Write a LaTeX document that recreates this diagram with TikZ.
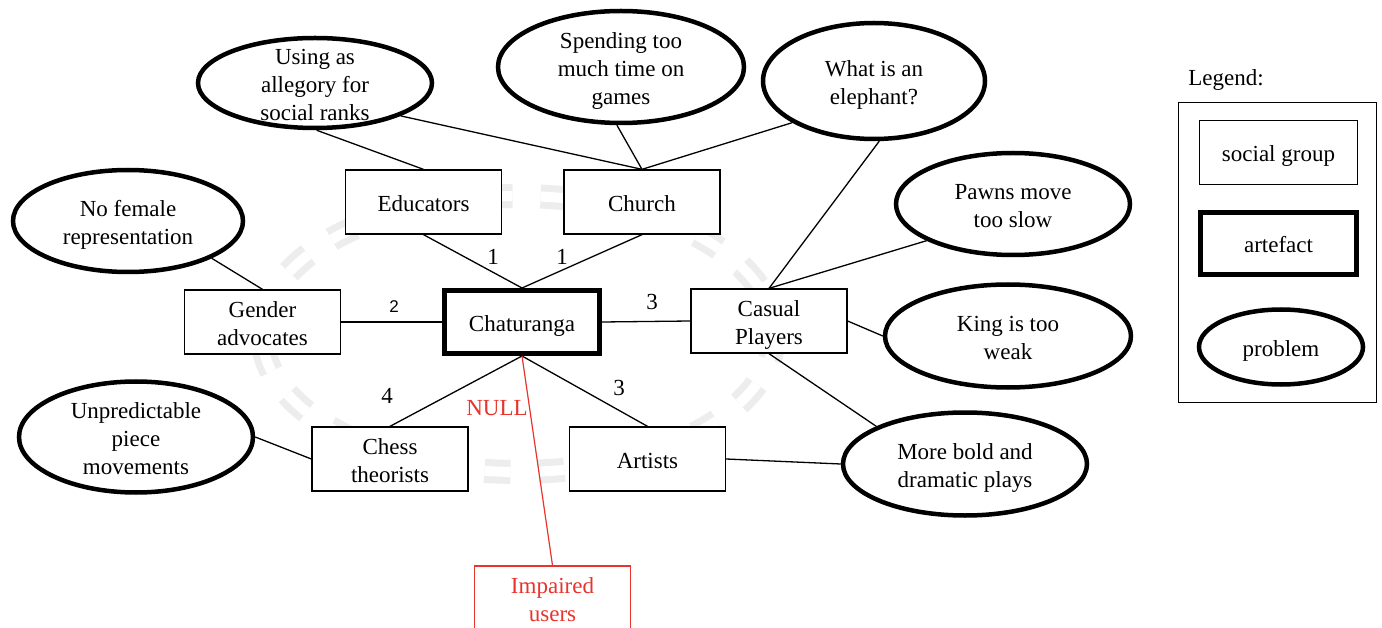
\documentclass[tikz,border=0pt]{standalone}
\usepackage{fontspec}
\setmainfont{Liberation Serif}
\newfontfamily\digitsans{Liberation Sans}
\usetikzlibrary{shapes.geometric}
\definecolor{wmgray}{RGB}{237,237,237}
\definecolor{nullred}{RGB}{232,52,44}
\newsavebox\tbox
\newdimen\tdim
\newcommand{\T}[1]{%
  \sbox\tbox{\begin{tabular}{@{}c@{}}#1\end{tabular}}%
  \tdim=\ht\tbox \advance\tdim by -\dp\tbox
  \sbox\tbox{\lower3.5pt\box\tbox}%
  \ht\tbox=\tdim \dp\tbox=0pt
  \box\tbox}
\begin{document}
\begin{tikzpicture}[x=1pt,y=-1pt,
  every node/.style={font=\fontsize{23}{28}\selectfont, align=center},
  sgbox/.style={draw, line width=1.3pt, fill=white, rectangle, inner sep=0pt, minimum width=156pt, minimum height=64pt},
  artbox/.style={draw, line width=5pt, fill=white, rectangle, inner sep=0pt, minimum width=155pt, minimum height=63pt},
  prob/.style={draw, line width=4.5pt, fill=white, ellipse, inner sep=0pt},
  conn/.style={line width=1.3pt},
  redconn/.style={line width=1.2pt, draw=nullred},
  lbl/.style={inner sep=0pt}
]
\useasboundingbox[fill=white] (0,0) rectangle (1382,628);

% faint watermark ring
\draw[draw=wmgray, line width=7pt, double=white, double distance=10pt, dash pattern=on 26pt off 28pt]
  (518,334) ellipse [x radius=256, y radius=138];

% social groups
\node[sgbox] (edu) at (423.5,202) {\T{Educators}};
\node[sgbox] (church) at (642,202) {\T{Church}};
\node[sgbox] (gender) at (262.5,322) {\T{Gender\\advocates}};
\node[sgbox] (casual) at (769,321) {\T{Casual\\Players}};
\node[sgbox] (chess) at (390,459) {\T{Chess\\theorists}};
\node[sgbox] (artists) at (647.5,459) {\T{Artists}};
\node[sgbox, draw=nullred, text=nullred, line width=1.2pt] (imp) at (552.5,598) {\T{Impaired\\users}};

% artefact
\node[artbox] (chat) at (522,322) {\T{Chaturanga}};

% problems
\node[prob, minimum width=234pt, minimum height=90pt] (E1) at (315,83) {\T{Using as\\allegory for\\social ranks}};
\node[prob, minimum width=246pt, minimum height=112pt] (E2) at (621,67) {\T{Spending too\\much time on\\games}};
\node[prob, minimum width=222pt, minimum height=116pt] (E3) at (874,81) {\T{What is an\\elephant?}};
\node[prob, minimum width=230pt, minimum height=102pt] (E4) at (128,221) {\T{No female\\representation}};
\node[prob, minimum width=234pt, minimum height=111pt] (E5) at (136,437) {\T{Unpredictable\\piece\\movements}};
\node[prob, minimum width=234pt, minimum height=102pt] (E6) at (1013,204) {\T{Pawns move\\too slow}};
\node[prob, minimum width=246pt, minimum height=103pt] (E7) at (1008,336) {\T{King is too\\weak}};
\node[prob, minimum width=244pt, minimum height=103pt] (E8) at (965,464) {\T{More bold and\\dramatic plays}};

% connectors: problems
\draw[conn] (E1.-88) -- (edu.north);
\draw[conn] (E1.-21) -- (church.north);
\draw[conn] (E2.-94) -- (church.north);
\draw[conn] (E3.-153) -- (church.north);
\draw[conn] (E3.-85) -- (casual.north);
\draw[conn] (E6.-157) -- (casual.north);
\draw[conn] (casual.east) -- (E7.west);
\draw[conn] (casual.south) -- (E8.157);
\draw[conn] (artists.east) -- (E8.west);
\draw[conn] (E4.-24) -- (gender.north);
\draw[conn] (E5.east) -- (chess.west);

% connectors: artefact
\draw[conn] (edu.south) -- (chat.north);
\draw[conn] (church.south) -- (chat.north);
\draw[conn] (gender.east) -- (chat.west);
\draw[conn] (chat.east) -- (casual.west);
\draw[conn] (chat.south) -- (chess.north);
\draw[conn] (chat.south) -- (artists.north);
\draw[redconn] (chat.south) -- (imp.north);

% labels
\node[lbl] (l1a) at (493,257) {1};
\node[lbl] (l1b) at (562,257) {1};
\node[lbl, font=\digitsans\fontsize{17}{20}\selectfont] (l2) at (394,307) {2};
\node[lbl] (l3a) at (652,302) {3};
\node[lbl] (l4) at (387,396) {4};
\node[lbl] (l3b) at (619,388) {3};
\node[lbl, text=nullred] (lnull) at (497,408) {NULL};

% legend
\node[lbl] (legtitle) at (1226,80) {Legend:};
\node[draw, line width=1.3pt, rectangle, inner sep=0pt, minimum width=198pt, minimum height=300pt] (legbox) at (1277.5,252.5) {};
\node[sgbox, minimum width=158pt, minimum height=64pt] (legsg) at (1278.5,152.5) {\T{social group}};
\node[artbox, minimum width=156pt, minimum height=62pt] (legart) at (1278.5,243.5) {\T{artefact}};
\node[prob, minimum width=164pt, minimum height=75pt] (legprob) at (1281,347) {\T{problem}};
\end{tikzpicture}
\end{document}
